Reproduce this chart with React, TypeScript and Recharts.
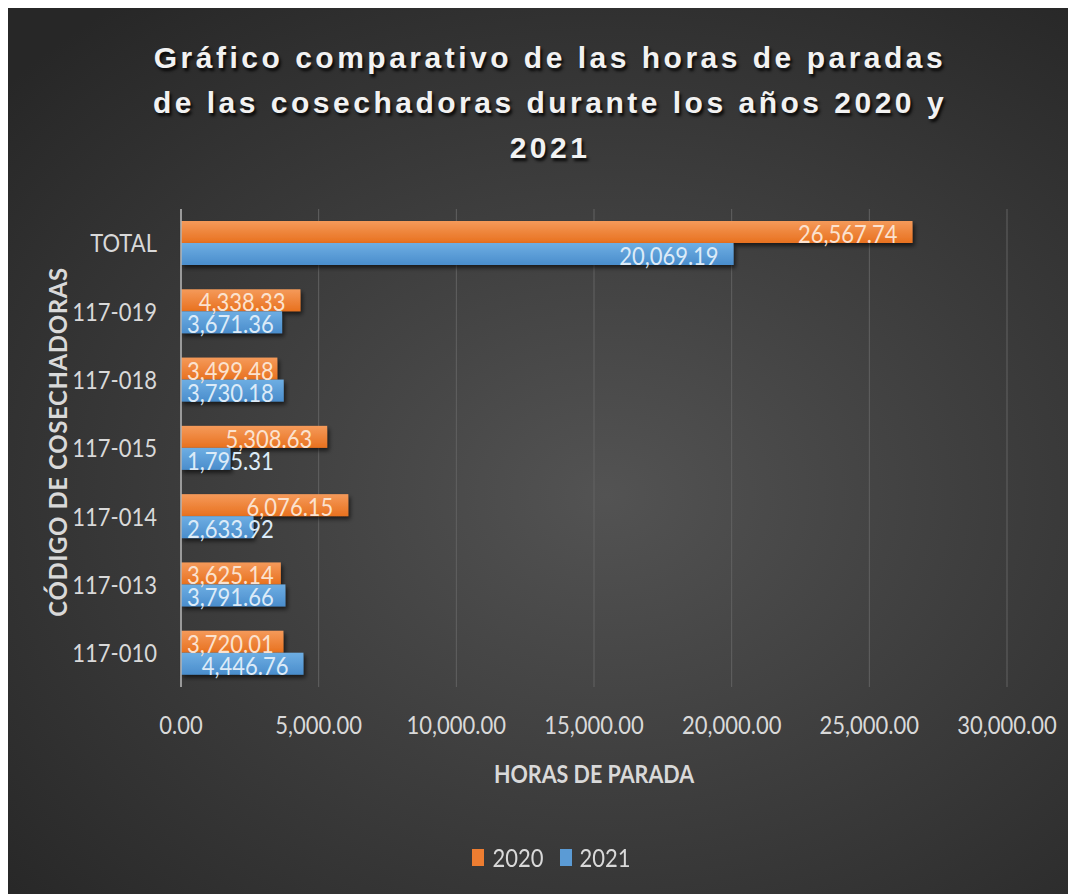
import React from "react";
import {
  Bar,
  BarChart,
  CartesianGrid,
  Label,
  LabelList,
  Legend,
  XAxis,
  YAxis,
} from "recharts";

const categories = ["TOTAL", "117-019", "117-018", "117-015", "117-014", "117-013", "117-010"];
const hours2020 = [26567.74, 4338.33, 3499.48, 5308.63, 6076.15, 3625.14, 3720.01];
const hours2021 = [20069.19, 3671.36, 3730.18, 1795.31, 2633.92, 3791.66, 4446.76];
const xTicks = [0, 5000, 10000, 15000, 20000, 25000, 30000];

const titleLines = [
  "Gráfico comparativo de las horas de paradas",
  "de las cosechadoras durante los años 2020 y",
  "2021",
];

// Calibri is not available; Lato stretched a little vertically comes close
const FONT = "Lato, 'Open Sans', sans-serif";
const FS = 22;
const STRETCH = 1.17;
const W = 1068;
const H = 886;

const ORANGE = "#ed7d31";
const BLUE = "#5b9bd5";
const TEXT = "#d9d9d9";

const data = categories.map((name, i) => ({
  name,
  y2020: hours2020[i],
  y2021: hours2021[i],
}));

function fmt(v: number) {
  return v.toLocaleString("en-US", { minimumFractionDigits: 2, maximumFractionDigits: 2 });
}

function textWidth(s: string, size: number) {
  let w = 0;
  for (const ch of s) {
    w += ch === "," || ch === "." ? 0.23 : 0.58;
  }
  return w * size;
}

function Stretched(props: {
  x: number;
  y: number;
  anchor: "start" | "middle" | "end";
  dy?: string;
  fill: string;
  size?: number;
  bold?: boolean;
  spacing?: number;
  children: React.ReactNode;
}) {
  const { x, y, anchor, dy, fill, size = FS, bold, spacing, children } = props;
  return (
    <g transform={`translate(${x},${y}) scale(1,${STRETCH})`}>
      <text
        x={0}
        y={0}
        dy={dy}
        textAnchor={anchor}
        fill={fill}
        fontFamily={FONT}
        fontSize={size}
        fontWeight={bold ? "bold" : "normal"}
        letterSpacing={spacing}
      >
        {children}
      </text>
    </g>
  );
}

function XTick(props: any) {
  const { x, y, payload } = props;
  return (
    <Stretched x={x} y={y} anchor="middle" dy="0.71em" fill={TEXT}>
      {fmt(Number(payload.value))}
    </Stretched>
  );
}

function YTick(props: any) {
  const { x, y, payload } = props;
  return (
    <Stretched x={x} y={y} anchor="end" dy="0.36em" fill={TEXT}>
      {payload.value}
    </Stretched>
  );
}

function barLabel(color: string) {
  return (props: any) => {
    const { x, y, width, height, value } = props;
    const text = fmt(Number(value));
    const tw = textWidth(text, FS);
    let start = x + width - 15 - tw;
    if (start < x + 6) start = x + 6;
    return (
      <Stretched x={start} y={y + height / 2 + 11} anchor="start" fill={color}>
        {text}
      </Stretched>
    );
  };
}

function barShape(gradId: string) {
  return (props: any) => {
    const { x, y, width, height } = props;
    return (
      <rect
        x={x}
        y={y}
        width={Math.max(width, 0)}
        height={height}
        fill={`url(#${gradId})`}
        filter="url(#barShadow)"
      />
    );
  };
}

function LegendContent() {
  const item = (color: string, label: string, last: boolean) => (
    <div style={{ display: "flex", alignItems: "center", marginRight: last ? 0 : 16 }}>
      <div style={{ width: 12, height: 17, background: color, marginRight: 8 }} />
      <span
        style={{
          fontFamily: FONT,
          fontSize: FS,
          color: TEXT,
          display: "inline-block",
          transform: `scaleY(${STRETCH})`,
        }}
      >
        {label}
      </span>
    </div>
  );
  return (
    <div
      style={{
        height: 30,
        display: "flex",
        justifyContent: "center",
        alignItems: "center",
        paddingLeft: 88,
      }}
    >
      {item(ORANGE, "2020", false)}
      {item(BLUE, "2021", true)}
    </div>
  );
}

function YTitle(props: any) {
  const { viewBox } = props;
  const cy = viewBox.y + viewBox.height / 2 - 6;
  return (
    <text
      transform={`translate(59, ${cy}) rotate(-90)`}
      textAnchor="middle"
      fill={TEXT}
      fontFamily={FONT}
      fontWeight="bold"
      fontSize={24}
      letterSpacing={0.6}
    >
      CÓDIGO DE COSECHADORAS
    </text>
  );
}

function XTitle(props: any) {
  const { viewBox } = props;
  return (
    <Stretched
      x={viewBox.x + viewBox.width / 2}
      y={775}
      anchor="middle"
      fill={TEXT}
      size={21.5}
      bold
    >
      HORAS DE PARADA
    </Stretched>
  );
}

export default function App() {
  return (
    <div
      style={{
        position: "relative",
        width: W,
        height: H,
        overflow: "hidden",
        background:
          "radial-gradient(ellipse 75% 70% at 56% 55%, #535353 0%, #3f3f3f 45%, #272727 100%)",
      }}
    >
      <div
        style={{
          position: "absolute",
          top: 27,
          left: 8,
          width: W,
          textAlign: "center",
          fontFamily: "'Liberation Sans', Arial, sans-serif",
          fontWeight: "bold",
          fontSize: 30,
          letterSpacing: 3.5,
          lineHeight: "45px",
          color: "#f2f2f2",
          textShadow: "2px 3px 3px rgba(0,0,0,0.85)",
        }}
      >
        {titleLines.map((l) => (
          <div key={l}>{l}</div>
        ))}
      </div>
      <BarChart
        width={W}
        height={H}
        data={data}
        layout="vertical"
        margin={{ top: 201, right: 69, left: 0, bottom: 22 }}
        barGap={0}
        barSize={22}
        style={{ position: "absolute", top: 0, left: 0 }}
      >
        <defs>
          <linearGradient id="gradOrange" x1="0" y1="0" x2="0" y2="1">
            <stop offset="0%" stopColor="#f59a5a" />
            <stop offset="100%" stopColor="#e8711f" />
          </linearGradient>
          <linearGradient id="gradBlue" x1="0" y1="0" x2="0" y2="1">
            <stop offset="0%" stopColor="#6eaee3" />
            <stop offset="100%" stopColor="#4a8dcc" />
          </linearGradient>
          <filter id="barShadow" x="-10%" y="-30%" width="130%" height="180%">
            <feDropShadow dx="2" dy="3" stdDeviation="2" floodColor="#000" floodOpacity="0.6" />
          </filter>
        </defs>
        <CartesianGrid horizontal={false} stroke="#626262" />
        <XAxis
          type="number"
          domain={[0, 30000]}
          ticks={xTicks}
          axisLine={false}
          tickLine={false}
          tickSize={6}
          tickMargin={23}
          height={155}
          interval={0}
          tick={<XTick />}
        >
          <Label content={<XTitle />} />
        </XAxis>
        <YAxis
          type="category"
          dataKey="name"
          width={173}
          axisLine={{ stroke: "#b5b5b5", strokeWidth: 1.5 }}
          tickLine={false}
          tickSize={6}
          tickMargin={18}
          interval={0}
          tick={<YTick />}
          label={<YTitle />}
        />
        <Legend verticalAlign="bottom" content={<LegendContent />} />
        <Bar
          dataKey="y2020"
          name="2020"
          fill={ORANGE}
          isAnimationActive={false}
          shape={barShape("gradOrange")}
        >
          <LabelList dataKey="y2020" content={barLabel("#fbe2cf")} />
        </Bar>
        <Bar
          dataKey="y2021"
          name="2021"
          fill={BLUE}
          isAnimationActive={false}
          shape={barShape("gradBlue")}
        >
          <LabelList dataKey="y2021" content={barLabel("#dcebf8")} />
        </Bar>
      </BarChart>
    </div>
  );
}
